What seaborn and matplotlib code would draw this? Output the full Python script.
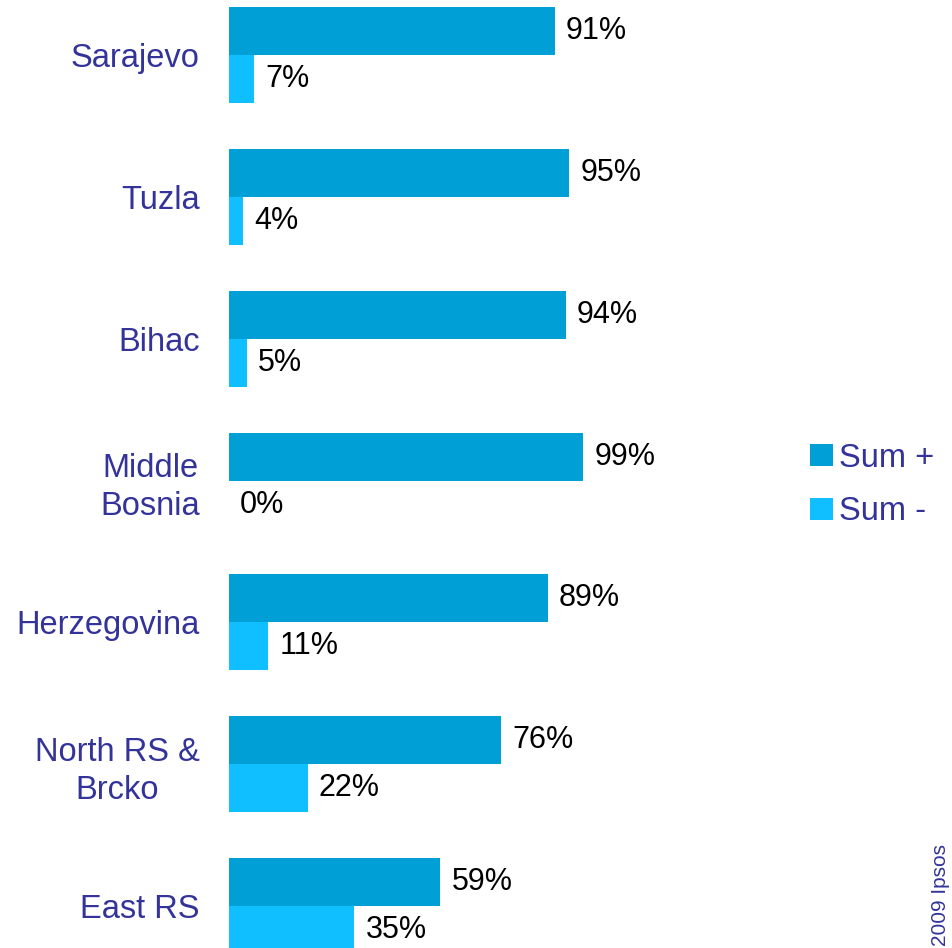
import pandas as pd
import matplotlib.pyplot as plt
import seaborn as sns
from matplotlib.patches import Patch

sns.set_style("white")
plt.rcParams['font.family'] = ['Liberation Sans', 'DejaVu Sans']

regions = ["Sarajevo", "Tuzla", "Bihac", "Middle\nBosnia", "Herzegovina",
           "North RS &\nBrcko", "East RS"]
sum_plus = [91, 95, 94, 99, 89, 76, 59]
sum_minus = [7, 4, 5, 0, 11, 22, 35]
series = ["Sum +", "Sum -"]
colors = ["#009FD6", "#10BFFF"]
text_color = "#333399"

df = pd.DataFrame({
    "region": regions * 2,
    "value": sum_plus + sum_minus,
    "series": [series[0]] * len(regions) + [series[1]] * len(regions),
})

fig = plt.figure(figsize=(9.52, 9.48), dpi=100)
ax = fig.add_axes([229 / 952, 0, 723 / 952, 1])

sns.barplot(data=df, y="region", x="value", hue="series", orient="h",
            palette=colors, width=0.677, saturation=1, legend=False,
            linewidth=0, ax=ax)

for cont in ax.containers:
    ax.bar_label(cont, labels=[f"{v:.0f}%" for v in cont.datavalues],
                 padding=8, fontsize=22, color="black")

ax.set_xlim(0, 723 / 3.58)
ax.set_ylim(6.296, -0.388)
ax.set_xlabel("")
ax.set_ylabel("")
ax.set_xticks([])
for s in ax.spines.values():
    s.set_visible(False)
ax.tick_params(axis="y", length=0, pad=21)
for lab in ax.get_yticklabels():
    lab.set_fontsize(23.5)
    lab.set_color(text_color)
    lab.set_multialignment("center")
    lab.set_linespacing(1.3)

handles = [Patch(facecolor=c, edgecolor="none") for c in colors]
leg = fig.legend(handles, series, loc="center left",
                 bbox_to_anchor=(781 / 952, 1 - 485 / 948), frameon=False,
                 fontsize=23.5, handlelength=0.68, handleheight=0.68,
                 handletextpad=0.2, labelspacing=0.7)
for t in leg.get_texts():
    t.set_color(text_color)

fig.text(0.988, 0.002, "2009 Ipsos", rotation=90, ha="center", va="bottom",
         fontsize=15, color=text_color)

plt.savefig("out.png", dpi=100)
